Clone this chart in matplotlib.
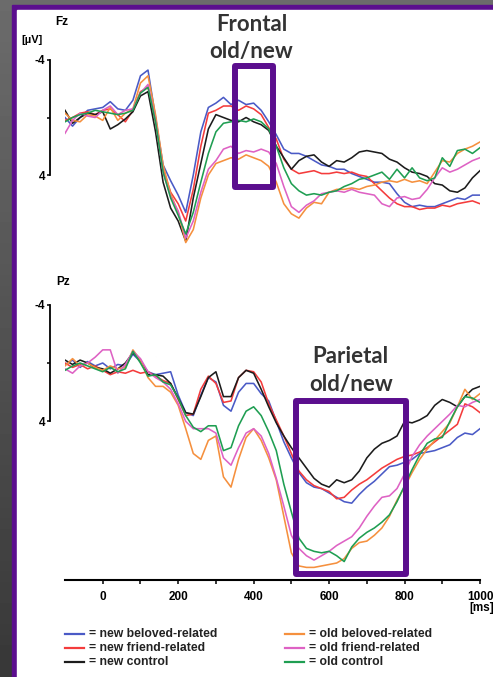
"""Redraw of the Fz / Pz ERP comparison figure with the old/new windows marked."""

import matplotlib

matplotlib.use("Agg")
import matplotlib.pyplot as plt
import numpy as np
from matplotlib.lines import Line2D
from matplotlib.patches import Rectangle

FIG_W, FIG_H = 493, 677

# sample grid of the waveforms (ms)
TIME_MS = list(range(-100, 1001, 20))

CONDITIONS = [
    "new beloved-related",
    "new friend-related",
    "new control",
    "old beloved-related",
    "old friend-related",
    "old control",
]
COLORS = ["#4a5ac6", "#f43c3c", "#1c1c1c", "#f5903e", "#de62c4", "#1f9e52"]

# Fz amplitudes (uV), one row = 160 ms
FZ_NEW_BELOVED = [
    0.0, 0.6, 0.0, -0.5, -0.6, -0.7, -1.1, -0.6,
    -0.5, -1.2, -2.9, -3.3, 0.0, 3.3, 4.4, 5.4,
    6.6, 4.0, 1.0, -0.7, -1.0, -1.4, -0.9, -1.2,
    -0.9, -1.0, -0.5, 0.3, 1.2, 2.2, 2.5, 2.5,
    2.7, 3.0, 3.3, 3.4, 3.6, 3.6, 3.9, 4.1,
    4.3, 4.5, 4.5, 4.6, 5.3, 5.9, 6.2, 6.1,
    6.2, 6.2, 6.0, 5.8, 5.6, 5.7, 5.4, 5.4,
]
FZ_NEW_FRIEND = [
    0.2, 0.0, -0.3, -0.4, -0.2, -0.5, -0.6, -0.2,
    0.3, -0.5, -1.8, -2.1, 0.3, 3.6, 5.2, 6.0,
    7.2, 5.0, 2.0, -0.3, -0.5, -0.8, -0.8, -0.5,
    -0.8, -0.6, -0.2, 0.7, 1.5, 2.9, 3.6, 3.9,
    3.8, 3.7, 3.9, 3.9, 3.8, 3.9, 3.8, 4.0,
    4.1, 4.6, 5.1, 5.6, 6.0, 6.2, 6.2, 6.4,
    6.3, 6.3, 6.1, 6.2, 6.0, 5.9, 5.8, 6.0,
]
FZ_NEW_CONTROL = [
    -0.5, 0.4, 0.0, -0.3, -0.2, -0.4, 0.8, 0.5,
    0.1, -0.4, -1.5, -1.8, 1.0, 4.5, 6.3, 7.2,
    8.6, 5.6, 3.2, 0.8, -0.2, 0.0, 0.2, 0.3,
    0.0, 0.3, 0.5, 0.9, 2.0, 2.8, 3.6, 3.0,
    2.7, 2.6, 3.1, 3.4, 3.0, 3.1, 2.8, 2.4,
    2.3, 2.4, 2.5, 2.9, 3.1, 3.5, 3.8, 3.9,
    4.1, 4.6, 4.7, 5.1, 5.2, 4.9, 4.2, 3.7,
]
FZ_OLD_BELOVED = [
    -0.3, 0.2, 0.3, -0.2, -0.1, 0.2, -0.7, 0.2,
    -0.3, -0.6, -2.4, -2.9, -0.2, 3.3, 5.3, 6.6,
    8.7, 7.8, 5.6, 4.0, 3.2, 3.0, 2.8, 2.9,
    2.6, 2.8, 3.0, 3.4, 4.5, 6.0, 6.7, 7.0,
    6.3, 5.9, 6.0, 5.2, 5.0, 5.0, 4.9, 5.0,
    4.8, 4.7, 4.5, 4.4, 4.5, 4.3, 4.5, 4.4,
    4.6, 3.8, 3.0, 3.1, 2.5, 2.2, 2.0, 1.7,
]
FZ_OLD_FRIEND = [
    1.1, 0.2, -0.3, -0.1, 0.0, -0.5, -0.8, -0.2,
    -0.5, -0.6, -1.7, -2.3, 0.2, 3.8, 5.5, 6.5,
    8.4, 7.2, 5.2, 3.6, 3.0, 2.2, 2.0, 2.5,
    2.3, 2.4, 2.2, 2.4, 3.2, 4.8, 6.2, 6.6,
    6.1, 5.8, 5.3, 5.2, 5.1, 5.2, 5.0, 5.2,
    5.3, 5.4, 6.0, 6.2, 5.6, 5.5, 5.7, 5.6,
    5.0, 4.2, 3.5, 3.8, 3.6, 3.3, 3.0, 2.8,
]
FZ_OLD_CONTROL = [
    0.3, 0.0, -0.2, -0.3, -0.5, -0.4, -0.3, -0.2,
    -0.3, -0.5, -1.7, -2.1, 0.3, 3.8, 5.6, 6.8,
    8.1, 6.6, 4.5, 2.5, 1.0, 0.4, 0.3, 0.2,
    0.3, 0.1, 0.3, 0.8, 2.0, 3.5, 4.6, 5.1,
    5.4, 5.3, 5.4, 5.2, 5.1, 4.8, 4.6, 4.3,
    4.2, 4.0, 3.8, 4.3, 3.6, 4.2, 3.5, 4.2,
    4.4, 4.2, 2.8, 3.4, 2.3, 2.2, 2.5, 2.1,
]

# Pz amplitudes (uV)
PZ_NEW_BELOVED = [
    0.1, -0.2, 0.3, -0.1, 0.2, 0.0, 0.4, 0.1,
    0.2, -0.6, -0.1, 0.6, 0.8, 0.7, 0.6, 2.2,
    3.4, 3.6, 2.2, 1.0, 1.3, 2.9, 3.3, 2.0,
    1.4, 1.4, 2.1, 2.6, 4.0, 5.4, 6.5, 7.5,
    8.2, 8.5, 8.6, 8.9, 9.2, 9.5, 9.6, 9.0,
    8.5, 8.1, 7.6, 7.1, 7.0, 6.8, 6.6, 6.2,
    6.1, 6.0, 5.8, 5.6, 5.1, 4.8, 4.9, 4.5,
]
PZ_NEW_FRIEND = [
    0.0, 0.3, 0.1, 0.4, 0.2, 0.5, 0.8, 0.6,
    0.7, 0.5, 0.7, 0.6, 0.9, 1.2, 1.4, 2.5,
    3.6, 3.5, 1.8, 0.9, 1.4, 2.7, 2.6, 1.0,
    0.5, 0.6, 1.3, 2.8, 3.9, 5.0, 6.2, 7.4,
    8.0, 8.4, 8.6, 8.8, 9.3, 9.2, 8.7, 8.3,
    8.0, 7.6, 7.2, 6.9, 6.6, 6.4, 6.3, 6.1,
    5.8, 5.4, 5.0, 4.6, 4.2, 2.8, 3.0, 3.4,
]
PZ_NEW_CONTROL = [
    -0.2, 0.1, -0.2, 0.0, 0.3, 0.4, 0.7, 0.4,
    0.0, -0.7, -0.2, 0.8, 0.8, 0.9, 1.4, 2.4,
    3.4, 3.5, 2.3, 1.0, 0.6, 2.3, 2.3, 1.0,
    0.5, 0.7, 1.8, 3.0, 4.1, 5.0, 5.8, 6.5,
    7.2, 7.9, 8.3, 8.5, 8.0, 8.2, 8.0, 7.4,
    6.5, 5.9, 5.5, 5.3, 5.0, 4.0, 4.1, 3.9,
    3.6, 2.9, 2.5, 2.7, 3.0, 2.3, 1.8, 1.6,
]
PZ_OLD_BELOVED = [
    0.2, -0.3, 0.2, 0.0, 0.3, 0.5, 0.2, 0.4,
    0.3, -0.9, -0.2, 1.0, 1.6, 1.6, 2.0, 2.9,
    4.5, 6.2, 6.6, 5.3, 5.0, 7.8, 8.5, 6.6,
    5.1, 4.5, 5.3, 6.5, 8.0, 10.5, 13.0, 13.9,
    14.0, 14.0, 13.9, 13.8, 13.7, 13.4, 12.7, 12.3,
    12.2, 11.8, 11.3, 10.5, 9.4, 8.5, 7.5, 6.6,
    5.9, 5.3, 4.7, 4.1, 3.0, 1.8, 2.5, 2.1,
]
PZ_OLD_FRIEND = [
    0.4, 0.7, 0.2, 0.0, -0.4, -0.9, -0.9, 0.7,
    0.1, -0.8, -0.3, 0.6, 1.0, 1.3, 1.8, 2.8,
    4.0, 4.5, 4.5, 4.5, 4.8, 6.5, 7.0, 5.8,
    4.8, 4.5, 5.0, 6.2, 7.9, 9.8, 11.8, 12.7,
    13.2, 13.5, 13.2, 12.9, 12.5, 12.2, 11.9, 11.3,
    10.5, 9.8, 9.2, 9.1, 8.6, 7.6, 6.4, 5.6,
    5.0, 4.5, 4.0, 3.5, 2.9, 3.0, 2.7, 2.5,
]
PZ_OLD_CONTROL = [
    0.5, 0.2, 0.0, 0.2, 0.4, 0.6, 0.3, 0.6,
    0.4, -0.8, 0.0, 0.9, 0.8, 1.3, 1.5, 2.4,
    3.6, 4.4, 4.7, 4.3, 4.3, 6.0, 5.8, 4.3,
    3.3, 3.0, 3.6, 4.7, 6.0, 8.3, 10.2, 12.0,
    12.7, 12.9, 13.0, 12.9, 13.2, 13.6, 12.6, 12.0,
    11.6, 11.3, 10.9, 10.4, 9.5, 8.4, 7.3, 6.3,
    5.5, 5.2, 5.1, 4.0, 3.0, 2.3, 2.4, 2.7,
]

FZ_SERIES = [FZ_NEW_BELOVED, FZ_NEW_FRIEND, FZ_NEW_CONTROL,
             FZ_OLD_BELOVED, FZ_OLD_FRIEND, FZ_OLD_CONTROL]
PZ_SERIES = [PZ_NEW_BELOVED, PZ_NEW_FRIEND, PZ_NEW_CONTROL,
             PZ_OLD_BELOVED, PZ_OLD_FRIEND, PZ_OLD_CONTROL]

X_TICKS = list(range(0, 1001, 100))
X_TICK_LABELS = [str(t) if t % 200 == 0 else "" for t in X_TICKS]
Y_TICKS = [-4, 0, 4]
Y_TICK_LABELS = ["-4", "", "4"]

PURPLE = "#5b0e8e"
TEXT_GREY = "#333333"


def fig_xy(px, py):
    return px / FIG_W, 1 - py / FIG_H


def fig_box(left, top, right, bottom):
    return [left / FIG_W, 1 - bottom / FIG_H, (right - left) / FIG_W, (bottom - top) / FIG_H]


def draw_background(fig):
    ax = fig.add_axes([0, 0, 1, 1])
    ax.set_xlim(0, FIG_W)
    ax.set_ylim(FIG_H, 0)
    ax.axis("off")
    shade = np.linspace(0.42, 0.22, 64).reshape(-1, 1)
    ax.imshow(shade, cmap="gray", vmin=0, vmax=1, aspect="auto",
              extent=(0, FIG_W, FIG_H, 0), zorder=0)
    ax.add_patch(Rectangle((12, 5), FIG_W, FIG_H, color=PURPLE, zorder=1))
    ax.add_patch(Rectangle((17, 10), FIG_W, FIG_H, color="white", zorder=2))


def make_channel_axes(fig, top_px, bottom_px, zero_px, px_per_uv):
    ax = fig.add_axes(fig_box(65, top_px, 480, bottom_px))
    ax.set_xlim(-100, 1000)
    ax.set_ylim((bottom_px - zero_px) / px_per_uv, (top_px - zero_px) / px_per_uv)
    ax.patch.set_alpha(0)
    for side in ("top", "right", "bottom"):
        ax.spines[side].set_visible(False)
    ax.spines["left"].set_position(("outward", 10.8))
    ax.spines["left"].set_bounds(-4, 4)
    ax.spines["left"].set_linewidth(1.3)
    ax.set_yticks(Y_TICKS, labels=Y_TICK_LABELS)
    ax.tick_params(axis="y", direction="out", length=2.5, width=1.1, pad=1,
                   labelsize=8.5)
    ax.set_xticks([])
    return ax


def draw_waves(ax, series):
    for values, color in zip(series, COLORS):
        ax.plot(TIME_MS, values, color=color, lw=1.15, zorder=3)


def main():
    plt.rcParams["font.family"] = ["Liberation Sans", "DejaVu Sans"]
    plt.rcParams["font.weight"] = "bold"

    fig = plt.figure(figsize=(FIG_W / 100, FIG_H / 100), dpi=100)
    draw_background(fig)

    ax_fz = make_channel_axes(fig, 50, 250, 117.5, 14.375)
    draw_waves(ax_fz, FZ_SERIES)
    ax_fz.add_patch(Rectangle((350, -3.6), 102, 8.45, fill=False, ec=PURPLE,
                              lw=4.3, joinstyle="round", zorder=5, clip_on=False))

    ax_pz = make_channel_axes(fig, 285, 580, 363, 14.6)
    draw_waves(ax_pz, PZ_SERIES)
    ax_pz.add_patch(Rectangle((512, 2.6), 292, 11.85, fill=False, ec=PURPLE,
                              lw=4.3, joinstyle="round", zorder=5, clip_on=False))
    ax_pz.spines["bottom"].set_visible(True)
    ax_pz.spines["bottom"].set_linewidth(1.5)
    ax_pz.set_xticks(X_TICKS, labels=X_TICK_LABELS)
    ax_pz.tick_params(axis="x", direction="out", length=3, width=1.1, pad=5,
                      labelsize=8.5)

    fig.text(*fig_xy(55, 22), "Fz", fontsize=8.5, va="center", ha="left")
    fig.text(*fig_xy(21, 40), "[\u00b5V]", fontsize=8, va="center", ha="left")
    fig.text(*fig_xy(56, 282), "Pz", fontsize=8.5, va="center", ha="left")
    fig.text(*fig_xy(469, 608), "[ms]", fontsize=8.5, va="center", ha="left")

    title_kw = dict(family="Lato", fontweight="bold", fontsize=16, color=TEXT_GREY,
                    ha="center", va="baseline")
    fig.text(*fig_xy(252, 31), "Frontal", **title_kw)
    fig.text(*fig_xy(251, 58), "old/new", **title_kw)
    fig.text(*fig_xy(350, 363), "Parietal", **title_kw)
    fig.text(*fig_xy(351, 391), "old/new", **title_kw)

    # hand-placed legend: new conditions left, old conditions right
    rows_y = [634, 648, 662]
    for i, (name, color) in enumerate(zip(CONDITIONS, COLORS)):
        col, row = divmod(i, 3)
        x0 = 65 if col == 0 else 285
        y = rows_y[row]
        x1, y1 = fig_xy(x0, y)
        x2, _ = fig_xy(x0 + 19, y)
        fig.add_artist(Line2D([x1, x2], [y1, y1], color=color, lw=1.6,
                              transform=fig.transFigure))
        fig.text(*fig_xy(x0 + 24, y), f"= {name}", fontsize=8.8, color="#222222",
                 va="center", ha="left")

    fig.savefig("out.png", dpi=100)
    plt.close(fig)


if __name__ == "__main__":
    main()
